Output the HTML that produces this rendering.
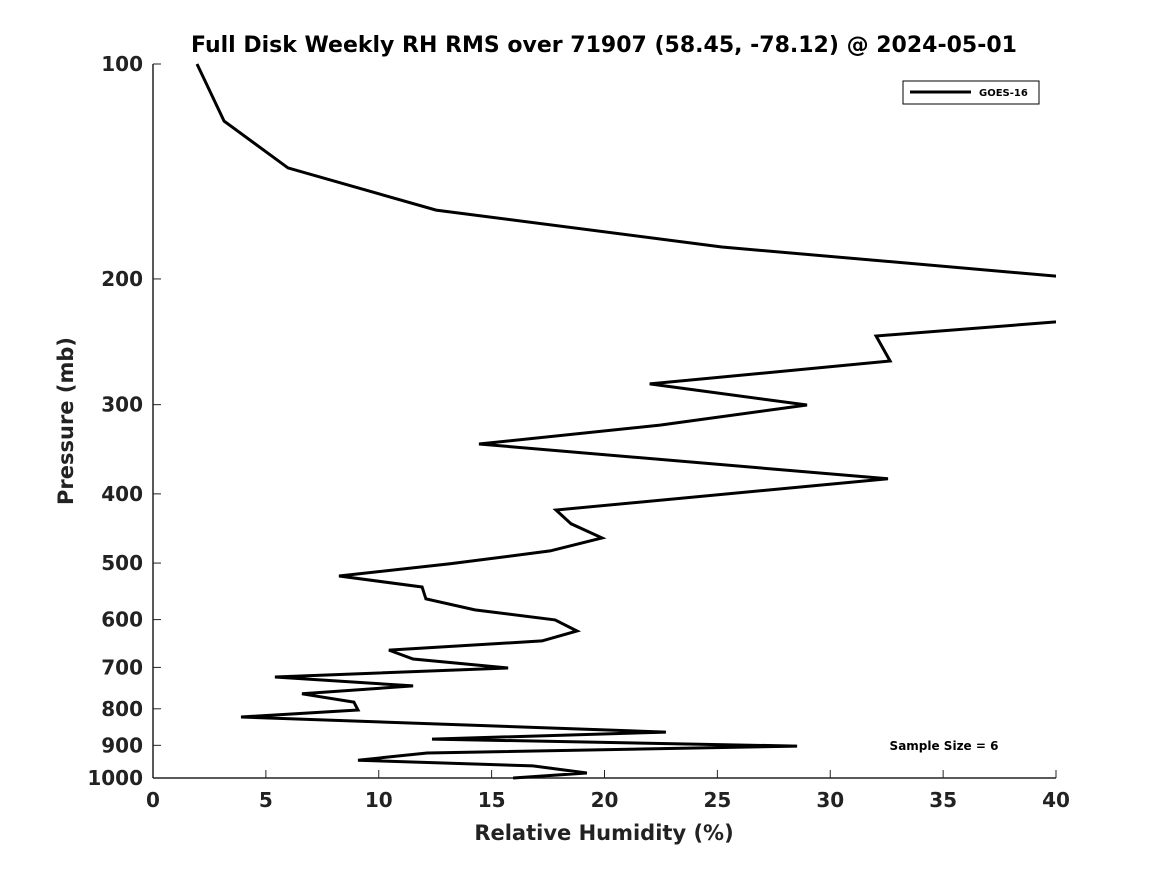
<!DOCTYPE html>
<html><head><meta charset="utf-8"><style>
body{margin:0;background:#fff;}
svg text{font-family:"DejaVu Sans","Liberation Sans",sans-serif;font-weight:bold;fill:#222;}
</style></head><body>
<svg width="1167" height="875" xmlns="http://www.w3.org/2000/svg">
<rect width="1167" height="875" fill="#fff"/>
<text x="604" y="52" text-anchor="middle" font-size="22" fill="#000" style="fill:#000">Full Disk Weekly RH RMS over 71907 (58.45, -78.12) @ 2024-05-01</text>
<defs><clipPath id="plot"><rect x="153" y="60" width="903" height="720"/></clipPath></defs>
<g id="axes"></g>
<g id="series" clip-path="url(#plot)"></g>
<text x="73" y="421" text-anchor="middle" font-size="21" transform="rotate(-90 73 421)">Pressure (mb)</text>
<text x="604" y="840" text-anchor="middle" font-size="21">Relative Humidity (%)</text>
<g>
<rect x="903" y="81" width="136" height="23" fill="#fff" stroke="#000" stroke-width="1"/>
<line x1="910" y1="92" x2="971" y2="92" stroke="#000" stroke-width="3"/>
<text x="979" y="96" font-size="10" style="fill:#000">GOES-16</text>
</g>
<text x="944" y="750" text-anchor="middle" font-size="12" style="fill:#000">Sample Size = 6</text>
</svg>
<script>
const rhValues=[1.95,3.15,5.98,12.54,25.2,40.0,46,32.03,32.65,22.0,28.97,22.46,14.44,32.56,17.85,18.52,19.89,17.59,13.16,8.24,11.92,12.09,14.26,17.81,18.78,17.23,10.45,11.52,15.73,5.40,11.52,6.60,8.90,9.08,3.90,22.72,12.36,28.53,12.14,9.08,16.83,19.22,15.95];
const pressureValues=[100,120.2,139.8,160.2,180.4,198.2,222,240.4,260.6,280.6,300.3,320.4,340.6,381,421.4,440.6,461,480.8,501.2,521.3,540.2,561.3,581.5,600.6,622.5,642.7,662,681.3,701.3,722.1,743,762.1,782.8,803.2,821.5,862.3,882,902.2,922.6,944.1,961.6,984,1000];
const xTicks=[0,5,10,15,20,25,30,35,40];
const yTicks=[100,200,300,400,500,600,700,800,900,1000];
const X0=153,X1=1056,Y0=64,Y1=778;
const xs=v=>X0+(v-0)/(40-0)*(X1-X0);
const ys=p=>Y0+(Math.log10(p)-2)/(1)*(Y1-Y0);
const NS="http://www.w3.org/2000/svg";
const axes=document.getElementById('axes');
function mk(tag,attrs,parent){const e=document.createElementNS(NS,tag);for(const k in attrs)e.setAttribute(k,attrs[k]);parent.appendChild(e);return e;}
let l=mk('line',{x1:X0,y1:Y0,x2:X0,y2:Y1,stroke:'#222','stroke-width':1.5},axes);


l=mk('line',{x1:X0,y1:Y1,x2:X1,y2:Y1,stroke:'#222','stroke-width':1.5},axes);


xTicks.forEach(v=>{
  const x=xs(v);
  const t=mk('line',{x1:x,y1:Y1,x2:x,y2:Y1-8,stroke:'#222','stroke-width':1},axes);
  
  
  const tx=mk('text',{x:x,y:Y1+29,'text-anchor':'middle','font-size':20},axes);
  tx.textContent=v;
  
  
});
yTicks.forEach(p=>{
  const y=ys(p);
  const t=mk('line',{x1:X0,y1:y,x2:X0+8,y2:y,stroke:'#222','stroke-width':1},axes);
  
  
  const tx=mk('text',{x:X0-10,y:y+7,'text-anchor':'end','font-size':20},axes);
  tx.textContent=p;
  
  
});
const pts=rhValues.map((v,i)=>xs(v).toFixed(1)+','+ys(pressureValues[i]).toFixed(1)).join(' ');
const line=mk('polyline',{points:pts,fill:'none',stroke:'#000','stroke-width':3,'stroke-linejoin':'miter'},document.getElementById('series'));


</script>
</body></html>
